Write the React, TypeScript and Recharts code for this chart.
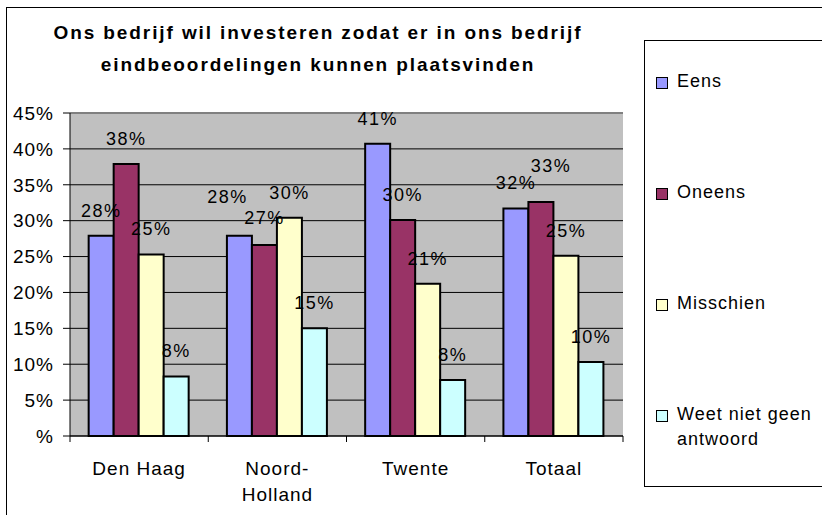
import React from 'react';
import { BarChart, Bar, XAxis, YAxis, CartesianGrid, LabelList, ReferenceLine } from 'recharts';

const categories = ['Den Haag', 'Noord-Holland', 'Twente', 'Totaal'];
const categoryLines = [['Den Haag'], ['Noord-', 'Holland'], ['Twente'], ['Totaal']];
const eens = [27.9, 27.9, 40.7, 31.7];
const oneens = [37.9, 26.6, 30.1, 32.6];
const misschien = [25.3, 30.4, 21.2, 25.1];
const weetNiet = [8.3, 15.0, 7.8, 10.3];
const yTicks = [0, 5, 10, 15, 20, 25, 30, 35, 40, 45];
const yTickLabels = ['%', '5%', '10%', '15%', '20%', '25%', '30%', '35%', '40%', '45%'];
const seriesKeys = ['eens', 'oneens', 'misschien', 'weetNiet'];
const seriesNames = ['Eens', 'Oneens', 'Misschien', 'Weet niet geen antwoord'];
const seriesLegendLines = [['Eens'], ['Oneens'], ['Misschien'], ['Weet niet geen', 'antwoord']];
const seriesColors = ['#9999FF', '#993366', '#FFFFCC', '#CCFFFF'];
const titleLines = ['Ons bedrijf wil investeren zodat er in ons bedrijf', 'eindbeoordelingen kunnen plaatsvinden'];

// manual label nudges (as in the original, where some labels were dragged)
const labelNudge: Record<string, [number, number]> = {
  'eens|1': [-12, -14],
  'oneens|1': [0, -2],
  'oneens|3': [10, -11],
};

const data = categories.map((c, i) => ({
  name: c,
  eens: eens[i],
  oneens: oneens[i],
  misschien: misschien[i],
  weetNiet: weetNiet[i],
}));

const FONT = '"Liberation Sans", Arial, Helvetica, sans-serif';
const W = 822;
const H = 515;
const MARGIN = { top: 113, right: 199, bottom: 19, left: 6 };
const YAXIS_W = 64;
const PLOT_W = W - MARGIN.left - MARGIN.right - YAXIS_W;
const BAND = PLOT_W / categories.length;

const CategoryTick = (props: any) => {
  const { x, y, index } = props;
  const lines = categoryLines[index] || [String(props.payload.value)];
  const half = BAND / 2;
  return (
    <g>
      <line x1={x - half} y1={y} x2={x - half} y2={y + 6} stroke="#000" />
      {index === categories.length - 1 && (
        <line x1={x + half} y1={y} x2={x + half} y2={y + 6} stroke="#000" />
      )}
      {lines.map((l: string, k: number) => (
        <text
          key={k}
          x={x}
          y={y + 39 + k * 26}
          textAnchor="middle"
          fontFamily={FONT}
          fontSize={19}
          letterSpacing={1}
          fill="#000"
        >
          {l}
        </text>
      ))}
    </g>
  );
};

const makeLabel = (key: string) => (props: any) => {
  const { x, y, width, value, index } = props;
  const n = labelNudge[`${key}|${index}`] || [0, 0];
  return (
    <text
      x={Number(x) + Number(width) / 2 + n[0]}
      y={Number(y) - 19 + n[1]}
      textAnchor="middle"
      fontFamily={FONT}
      fontSize={18}
      letterSpacing={1.5}
      fill="#000"
    >
      {`${Math.round(Number(value))}%`}
    </text>
  );
};

export default function App() {
  return (
    <div
      style={{
        position: 'absolute',
        left: 0,
        top: 0,
        width: W,
        height: H,
        overflow: 'hidden',
        background: '#fff',
        fontFamily: FONT,
      }}
    >
      <div
        style={{
          position: 'absolute',
          left: 6,
          top: 7,
          width: 900,
          height: 600,
          border: '1px solid #000',
        }}
      />
      <div style={{ position: 'absolute', left: 0, top: 0 }}>
        <BarChart
          width={W}
          height={H}
          data={data}
          margin={MARGIN}
          barCategoryGap="13.5%"
          barGap={0}
        >
          <CartesianGrid
            vertical={false}
            horizontal={true}
            stroke="#000"
            fill="#C0C0C0"
            fillOpacity={1}
          />
          <ReferenceLine y={45} stroke="#808080" strokeWidth={2} />
          <XAxis
            dataKey="name"
            tick={<CategoryTick />}
            tickLine={false}
            tickSize={0}
            tickMargin={0}
            axisLine={{ stroke: '#000' }}
            interval={0}
            height={60}
          />
          <YAxis
            domain={[0, 45]}
            ticks={yTicks}
            tickFormatter={(v: number) => yTickLabels[yTicks.indexOf(v)]}
            width={YAXIS_W}
            tickSize={7}
            tickMargin={9}
            axisLine={{ stroke: '#000' }}
            tickLine={{ stroke: '#000' }}
            tick={{ fill: '#000', fontSize: 19, fontFamily: FONT, letterSpacing: 1 }}
            interval={0}
          />
          <YAxis
            yAxisId="frame"
            orientation="right"
            domain={[0, 45]}
            width={0}
            tick={false}
            tickLine={false}
            axisLine={{ stroke: '#808080', strokeWidth: 2 }}
          />
          {seriesKeys.map((k, i) => (
            <Bar
              key={k}
              dataKey={k}
              name={seriesNames[i]}
              fill={seriesColors[i]}
              stroke="#000"
              strokeWidth={2}
              isAnimationActive={false}
            >
              <LabelList dataKey={k} content={makeLabel(k)} />
            </Bar>
          ))}
        </BarChart>
      </div>
      <div
        style={{
          position: 'absolute',
          left: 0,
          top: 17,
          width: 636,
          textAlign: 'center',
          fontWeight: 'bold',
          fontSize: 19,
          letterSpacing: 1.9,
          lineHeight: '32px',
          color: '#000',
        }}
      >
        {titleLines.map((t, i) => (
          <div key={i}>{t}</div>
        ))}
      </div>
      <div
        style={{
          position: 'absolute',
          left: 644,
          top: 40,
          width: 300,
          height: 445,
          border: '1px solid #000',
        }}
      >
        {seriesNames.map((n, i) => (
          <div
            key={n}
            style={{
              position: 'absolute',
              left: 11,
              top: 28 + i * 111,
              display: 'flex',
              alignItems: 'flex-start',
              fontSize: 18,
              letterSpacing: 1,
              lineHeight: '25px',
              color: '#000',
            }}
          >
            <div
              style={{
                width: 10,
                height: 10,
                marginTop: 8,
                marginRight: 9,
                background: seriesColors[i],
                border: '1px solid #000',
              }}
            />
            <div>
              {seriesLegendLines[i].map((l, k) => (
                <div key={k}>{l}</div>
              ))}
            </div>
          </div>
        ))}
      </div>
    </div>
  );
}
